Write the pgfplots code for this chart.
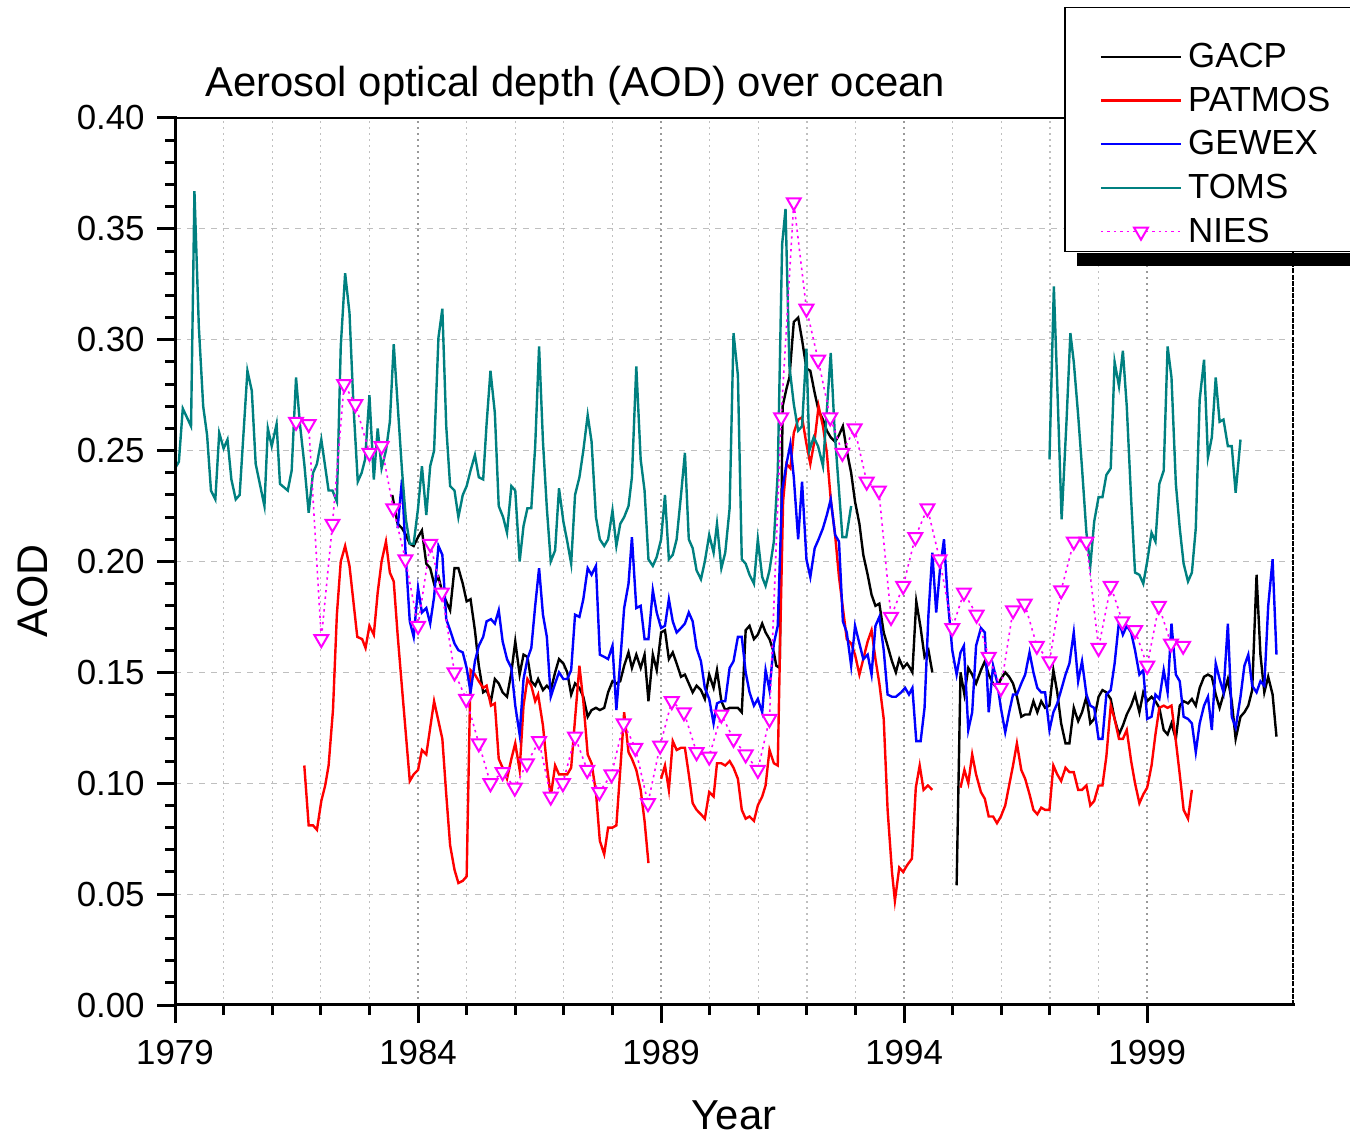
\documentclass[border=0pt]{standalone}
\usepackage{fontspec}
\setmainfont{Liberation Sans}
\usepackage{pgfplots}
\pgfplotsset{compat=1.18}
\definecolor{toms}{RGB}{0,128,128}
\definecolor{nies}{RGB}{255,0,255}
\begin{document}
\begin{tikzpicture}
\path[use as bounding box] (0,0) rectangle (675bp,568.5bp);
\begin{axis}[
  name=ax,
  at={(87.5bp,66bp)}, anchor=south west,
  scale only axis, width=559bp, height=443.5bp,
  xmin=1979, xmax=2002, ymin=0, ymax=0.4,
  clip=false,
  xtick={1979,1984,1989,1994,1999},
  xticklabels={1979,1984,1989,1994,1999},
  minor x tick num=4,
  ytick={0,0.05,0.1,0.15,0.2,0.25,0.3,0.35,0.4},
  yticklabels={0.00,0.05,0.10,0.15,0.20,0.25,0.30,0.35,0.40},
  minor y tick num=4,
  tick pos=left,
  tick align=outside,
  major tick length=9bp, minor tick length=5bp,
  tick style={black, line width=1.5bp},
  axis line style={draw=none},
  xmajorgrids, xminorgrids, ymajorgrids,
  major x grid style={gray!80, line width=0.8bp, dash pattern=on 1bp off 2bp},
  minor x grid style={gray!50, line width=0.6bp, dash pattern=on 1bp off 2bp},
  major y grid style={gray!50, line width=0.6bp, dash pattern=on 3bp off 3bp},
  tick label style={font=\fontsize{17.5}{21}\selectfont, inner sep=0pt},
  xticklabel shift=8.5bp,
  yticklabel shift=6bp,
  title={Aerosol optical depth (AOD) over ocean},
  title style={at={(axis description cs:0.0268,1.0237)}, anchor=base west, yshift=-6pt, inner sep=0pt, font=\fontsize{21}{25}\selectfont},
  xlabel={Year},
  xlabel style={at={(axis description cs:0.5,-0.1398)}, anchor=base, inner sep=0pt, font=\fontsize{21}{25}\selectfont},
  ylabel={AOD},
  ylabel style={at={(axis description cs:-0.1136,0.4667)}, anchor=base, inner sep=0pt, font=\fontsize{21.5}{26}\selectfont},
  unbounded coords=jump,
  legend style={name=leg, at={(axis description cs:0.7952,1.1252)}, anchor=north west,
    draw=black, line width=0.75bp, fill=white,
    font=\fontsize{17.5}{21}\selectfont,
    inner xsep=17.5bp, inner ysep=3bp,
    row sep=8.2bp, column sep=3bp,
    nodes={inner sep=0pt}},
  legend cell align=left,
  legend image code/.code={\draw[mark repeat=2,mark phase=2,#1] plot coordinates {(0bp,0bp) (20bp,0bp) (40bp,0bp)};},
]
\addlegendimage{empty legend}
\addlegendentry[text height=5bp]{}
\draw[line width=0.6bp] (rel axis cs:0,1) -- (rel axis cs:1,1);
\draw[line width=0.6bp, dash pattern=on 2.5bp off 0.6bp] (rel axis cs:1,0) -- (rel axis cs:1,1);
% GACP
\addplot[black, line width=1.2bp] coordinates {
(1983.47,0.230)(1983.58,0.217)(1983.67,0.215)(1983.75,0.212)(1983.83,0.208)(1983.91,0.207)
(1984.00,0.211)(1984.08,0.214)(1984.17,0.199)(1984.25,0.197)(1984.33,0.190)(1984.42,0.193)(1984.50,0.186)(1984.58,0.182)(1984.66,0.178)(1984.75,0.197)(1984.83,0.197)(1984.92,0.190)
(1985.00,0.182)(1985.08,0.183)(1985.17,0.169)(1985.25,0.153)(1985.34,0.141)(1985.41,0.142)(1985.50,0.137)(1985.58,0.147)(1985.66,0.145)(1985.74,0.141)(1985.83,0.139)(1985.92,0.150)
(1986.00,0.164)(1986.09,0.149)(1986.17,0.158)(1986.25,0.157)(1986.33,0.146)(1986.41,0.144)(1986.47,0.147)(1986.57,0.142)(1986.65,0.144)(1986.73,0.142)(1986.82,0.150)(1986.90,0.156)(1986.99,0.154)
(1987.07,0.150)(1987.15,0.140)(1987.23,0.145)(1987.32,0.143)(1987.40,0.139)(1987.49,0.130)(1987.57,0.133)(1987.66,0.134)(1987.74,0.133)(1987.83,0.134)(1987.91,0.141)
(1988.00,0.146)(1988.08,0.145)(1988.16,0.146)(1988.24,0.153)(1988.33,0.159)(1988.40,0.152)(1988.49,0.158)(1988.58,0.152)(1988.66,0.158)(1988.74,0.137)(1988.83,0.158)(1988.91,0.151)
(1989.00,0.168)(1989.08,0.169)(1989.16,0.156)(1989.24,0.159)(1989.32,0.154)(1989.41,0.148)(1989.49,0.149)(1989.57,0.145)(1989.65,0.141)(1989.73,0.144)(1989.82,0.142)(1989.90,0.138)(1989.99,0.149)
(1990.08,0.143)(1990.15,0.151)(1990.24,0.137)(1990.32,0.133)(1990.41,0.134)(1990.49,0.134)(1990.58,0.134)(1990.66,0.132)(1990.74,0.169)(1990.82,0.171)(1990.91,0.165)(1990.99,0.167)
(1991.08,0.172)(1991.15,0.168)(1991.23,0.165)(1991.32,0.159)(1991.37,0.153)(1991.44,0.152)(1991.50,0.270)(1991.58,0.278)(1991.64,0.283)(1991.73,0.308)(1991.82,0.310)(1991.90,0.300)(1991.99,0.287)
(1992.07,0.286)(1992.16,0.276)(1992.24,0.268)(1992.33,0.264)(1992.41,0.259)(1992.49,0.256)(1992.58,0.254)(1992.66,0.257)(1992.74,0.261)(1992.82,0.250)(1992.91,0.240)(1992.99,0.227)
(1993.08,0.217)(1993.16,0.203)(1993.25,0.194)(1993.33,0.185)(1993.41,0.180)(1993.49,0.181)(1993.58,0.168)(1993.66,0.162)(1993.75,0.155)(1993.83,0.150)(1993.90,0.156)(1993.98,0.152)
(1994.06,0.154)(1994.12,0.152)(1994.17,0.150)(1994.25,0.182)(1994.34,0.170)(1994.42,0.157)(1994.50,0.160)(1994.58,0.150)
(1994.80,nan)
(1995.08,0.054)(1995.16,0.150)(1995.24,0.140)(1995.32,0.152)(1995.40,0.149)(1995.48,0.145)(1995.58,0.151)(1995.66,0.155)(1995.74,0.149)(1995.83,0.145)(1995.91,0.143)(1995.99,0.147)
(1996.08,0.150)(1996.16,0.148)(1996.24,0.145)(1996.32,0.139)(1996.41,0.130)(1996.49,0.131)(1996.58,0.131)(1996.66,0.137)(1996.74,0.132)(1996.82,0.137)(1996.90,0.134)(1996.99,0.135)
(1997.07,0.151)(1997.15,0.141)(1997.23,0.127)(1997.32,0.118)(1997.40,0.118)(1997.49,0.134)(1997.58,0.128)(1997.66,0.132)(1997.75,0.139)(1997.83,0.127)(1997.91,0.129)
(1998.00,0.139)(1998.08,0.142)(1998.16,0.141)(1998.25,0.138)(1998.33,0.129)(1998.42,0.122)(1998.50,0.126)(1998.58,0.131)(1998.67,0.135)(1998.75,0.140)(1998.84,0.132)(1998.92,0.141)
(1999.00,0.137)(1999.09,0.139)(1999.17,0.137)(1999.25,0.134)(1999.34,0.124)(1999.42,0.122)(1999.50,0.127)(1999.59,0.120)(1999.67,0.135)(1999.75,0.137)(1999.84,0.136)(1999.92,0.138)
(2000.00,0.135)(2000.08,0.143)(2000.17,0.148)(2000.25,0.149)(2000.33,0.148)(2000.41,0.140)(2000.49,0.134)(2000.57,0.140)(2000.66,0.147)(2000.74,0.137)(2000.82,0.120)(2000.92,0.130)
(2001.00,0.132)(2001.08,0.135)(2001.16,0.142)(2001.25,0.194)(2001.33,0.158)(2001.41,0.141)(2001.49,0.148)(2001.58,0.140)(2001.66,0.121)
};
\addlegendentry{GACP}
% PATMOS
\addplot[red, line width=1.2bp] coordinates {
(1981.66,0.108)(1981.75,0.081)(1981.84,0.081)(1981.92,0.079)(1982.01,0.092)(1982.09,0.099)(1982.16,0.108)(1982.25,0.133)(1982.33,0.176)(1982.41,0.200)(1982.50,0.207)(1982.59,0.198)(1982.67,0.182)(1982.75,0.166)(1982.85,0.165)(1982.92,0.161)
(1983.00,0.171)(1983.09,0.167)(1983.17,0.186)(1983.25,0.200)(1983.34,0.209)(1983.42,0.195)(1983.50,0.191)(1983.58,0.167)(1983.67,0.143)(1983.75,0.122)(1983.83,0.101)(1983.91,0.104)
(1984.00,0.106)(1984.08,0.115)(1984.17,0.113)(1984.25,0.125)(1984.33,0.137)(1984.42,0.128)(1984.50,0.120)(1984.58,0.095)(1984.66,0.072)(1984.75,0.061)(1984.83,0.055)(1984.92,0.056)
(1985.00,0.058)(1985.08,0.151)(1985.17,0.149)(1985.25,0.146)(1985.34,0.143)(1985.41,0.144)(1985.50,0.135)(1985.58,0.136)(1985.66,0.111)(1985.74,0.107)(1985.83,0.102)(1985.92,0.111)
(1986.00,0.118)(1986.09,0.106)(1986.17,0.135)(1986.25,0.147)(1986.33,0.144)(1986.41,0.137)(1986.47,0.140)(1986.57,0.126)(1986.65,0.108)(1986.73,0.094)(1986.82,0.108)(1986.90,0.104)(1986.99,0.104)
(1987.07,0.104)(1987.15,0.107)(1987.23,0.129)(1987.32,0.153)(1987.40,0.137)(1987.49,0.113)(1987.57,0.109)(1987.66,0.096)(1987.74,0.074)(1987.83,0.068)(1987.91,0.080)
(1988.00,0.080)(1988.08,0.081)(1988.16,0.106)(1988.24,0.132)(1988.33,0.114)(1988.40,0.111)(1988.49,0.106)(1988.58,0.097)(1988.66,0.083)(1988.74,0.064)
(1988.85,nan)
(1989.00,0.102)(1989.08,0.108)(1989.16,0.097)(1989.24,0.119)(1989.32,0.115)(1989.41,0.116)(1989.49,0.116)(1989.57,0.104)(1989.65,0.091)(1989.73,0.088)(1989.82,0.086)(1989.90,0.084)(1989.99,0.096)
(1990.08,0.094)(1990.15,0.109)(1990.24,0.109)(1990.32,0.108)(1990.41,0.110)(1990.49,0.107)(1990.58,0.102)(1990.66,0.088)(1990.74,0.084)(1990.82,0.085)(1990.91,0.083)(1990.99,0.090)
(1991.08,0.094)(1991.15,0.099)(1991.23,0.115)(1991.32,0.109)(1991.40,0.108)(1991.45,0.165)(1991.51,0.227)(1991.58,0.244)(1991.66,0.242)(1991.73,0.258)(1991.82,0.264)(1991.90,0.265)(1991.99,0.253)
(1992.07,0.244)(1992.16,0.255)(1992.24,0.270)(1992.33,0.261)(1992.41,0.249)(1992.49,0.228)(1992.58,0.212)(1992.66,0.193)(1992.74,0.179)(1992.82,0.165)(1992.91,0.163)(1992.99,0.158)
(1993.08,0.149)(1993.16,0.156)(1993.25,0.164)(1993.33,0.169)(1993.41,0.156)(1993.49,0.145)(1993.58,0.129)(1993.66,0.088)(1993.75,0.060)(1993.81,0.047)(1993.90,0.062)(1993.98,0.060)
(1994.06,0.063)(1994.16,0.066)(1994.24,0.098)(1994.32,0.108)(1994.40,0.097)(1994.49,0.099)(1994.58,0.097)
(1994.85,nan)
(1995.16,0.098)(1995.24,0.106)(1995.32,0.100)(1995.40,0.113)(1995.48,0.104)(1995.58,0.096)(1995.66,0.093)(1995.74,0.085)(1995.83,0.085)(1995.91,0.082)(1995.99,0.085)
(1996.08,0.090)(1996.16,0.099)(1996.24,0.108)(1996.32,0.118)(1996.41,0.106)(1996.49,0.102)(1996.58,0.095)(1996.66,0.088)(1996.74,0.086)(1996.82,0.089)(1996.90,0.088)(1996.99,0.088)
(1997.07,0.108)(1997.15,0.104)(1997.23,0.101)(1997.32,0.107)(1997.40,0.105)(1997.49,0.105)(1997.58,0.097)(1997.66,0.097)(1997.75,0.099)(1997.83,0.090)(1997.91,0.092)
(1998.00,0.099)(1998.08,0.099)(1998.16,0.112)(1998.25,0.135)(1998.33,0.129)(1998.42,0.120)(1998.50,0.120)(1998.58,0.124)(1998.67,0.110)(1998.75,0.100)(1998.84,0.091)(1998.92,0.095)
(1999.00,0.098)(1999.09,0.108)(1999.17,0.122)(1999.25,0.134)(1999.34,0.135)(1999.42,0.134)(1999.50,0.135)(1999.59,0.119)(1999.67,0.104)(1999.75,0.088)(1999.84,0.084)(1999.92,0.097)
};
\addlegendentry{PATMOS}
% GEWEX
\addplot[blue, line width=1.2bp] coordinates {
(1983.58,0.215)(1983.67,0.237)(1983.75,0.201)(1983.83,0.173)(1983.91,0.166)
(1984.00,0.188)(1984.08,0.177)(1984.17,0.179)(1984.25,0.172)(1984.33,0.184)(1984.42,0.207)(1984.50,0.203)(1984.58,0.174)(1984.66,0.169)(1984.75,0.163)(1984.83,0.160)(1984.92,0.159)
(1985.00,0.152)(1985.08,0.141)(1985.17,0.155)(1985.25,0.162)(1985.34,0.166)(1985.41,0.173)(1985.50,0.174)(1985.58,0.172)(1985.66,0.178)(1985.74,0.164)(1985.83,0.156)(1985.92,0.152)
(1986.00,0.135)(1986.09,0.122)(1986.17,0.147)(1986.25,0.156)(1986.33,0.161)(1986.41,0.180)(1986.49,0.197)(1986.57,0.176)(1986.65,0.166)(1986.73,0.139)(1986.82,0.145)(1986.90,0.150)(1986.99,0.147)
(1987.07,0.147)(1987.15,0.151)(1987.23,0.176)(1987.32,0.175)(1987.40,0.183)(1987.49,0.197)(1987.57,0.194)(1987.66,0.198)(1987.74,0.158)(1987.83,0.157)(1987.91,0.156)
(1988.00,0.162)(1988.08,0.133)(1988.16,0.155)(1988.24,0.179)(1988.33,0.190)(1988.40,0.211)(1988.49,0.179)(1988.58,0.180)(1988.66,0.165)(1988.74,0.165)(1988.83,0.187)(1988.91,0.177)
(1989.00,0.170)(1989.08,0.171)(1989.16,0.183)(1989.24,0.173)(1989.32,0.168)(1989.41,0.170)(1989.49,0.172)(1989.57,0.177)(1989.65,0.173)(1989.73,0.161)(1989.82,0.155)(1989.90,0.143)(1989.99,0.138)
(1990.08,0.127)(1990.15,0.136)(1990.24,0.137)(1990.32,0.137)(1990.41,0.152)(1990.49,0.155)(1990.58,0.166)(1990.66,0.166)(1990.74,0.150)(1990.82,0.141)(1990.91,0.135)(1990.99,0.138)
(1991.08,0.132)(1991.15,0.151)(1991.23,0.142)(1991.32,0.163)(1991.40,0.171)(1991.49,0.232)(1991.58,0.244)(1991.66,0.253)(1991.73,0.238)(1991.82,0.210)(1991.90,0.236)(1991.99,0.201)
(1992.07,0.193)(1992.16,0.206)(1992.24,0.210)(1992.33,0.215)(1992.41,0.221)(1992.49,0.228)(1992.58,0.212)(1992.66,0.209)(1992.74,0.173)(1992.82,0.168)(1992.91,0.153)(1992.99,0.171)
(1993.08,0.163)(1993.16,0.156)(1993.25,0.158)(1993.33,0.149)(1993.41,0.171)(1993.49,0.175)(1993.58,0.160)(1993.66,0.140)(1993.75,0.139)(1993.83,0.139)(1993.94,0.141)
(1994.02,0.143)(1994.10,0.140)(1994.17,0.143)(1994.25,0.119)(1994.34,0.119)(1994.42,0.134)(1994.50,0.176)(1994.58,0.204)(1994.66,0.177)(1994.74,0.197)(1994.82,0.210)(1994.90,0.182)(1994.99,0.160)
(1995.08,0.149)(1995.16,0.159)(1995.23,0.162)(1995.32,0.124)(1995.40,0.132)(1995.48,0.162)(1995.58,0.170)(1995.66,0.168)(1995.74,0.132)(1995.83,0.153)(1995.91,0.146)(1995.99,0.134)
(1996.08,0.123)(1996.16,0.132)(1996.24,0.140)(1996.32,0.140)(1996.41,0.145)(1996.49,0.149)(1996.58,0.159)(1996.66,0.150)(1996.74,0.143)(1996.82,0.141)(1996.90,0.141)(1996.99,0.124)
(1997.07,0.132)(1997.15,0.136)(1997.23,0.142)(1997.32,0.149)(1997.40,0.154)(1997.49,0.168)(1997.58,0.146)(1997.66,0.155)(1997.75,0.140)(1997.83,0.135)(1997.91,0.134)
(1998.00,0.120)(1998.08,0.120)(1998.16,0.140)(1998.25,0.142)(1998.33,0.154)(1998.42,0.173)(1998.50,0.167)(1998.58,0.171)(1998.67,0.168)(1998.75,0.160)(1998.84,0.149)(1998.92,0.151)
(1999.00,0.129)(1999.09,0.130)(1999.17,0.140)(1999.25,0.138)(1999.34,0.151)(1999.42,0.141)(1999.50,0.172)(1999.59,0.149)(1999.67,0.146)(1999.75,0.130)(1999.84,0.129)(1999.92,0.127)
(2000.00,0.114)(2000.08,0.127)(2000.17,0.135)(2000.25,0.139)(2000.33,0.124)(2000.41,0.154)(2000.49,0.147)(2000.57,0.141)(2000.66,0.172)(2000.74,0.130)(2000.82,0.125)(2000.92,0.139)
(2001.00,0.153)(2001.08,0.158)(2001.16,0.144)(2001.25,0.141)(2001.33,0.146)(2001.41,0.144)(2001.49,0.180)(2001.58,0.201)(2001.66,0.158)
};
\addlegendentry{GEWEX}
% TOMS
\addplot[toms, line width=1.2bp] coordinates {
(1979.00,0.242)(1979.08,0.245)(1979.16,0.269)(1979.33,0.261)(1979.40,0.367)(1979.49,0.306)(1979.58,0.270)(1979.66,0.257)(1979.74,0.232)(1979.83,0.228)(1979.91,0.258)
(1980.00,0.251)(1980.08,0.255)(1980.16,0.237)(1980.25,0.228)(1980.33,0.230)(1980.49,0.286)(1980.58,0.277)(1980.66,0.244)(1980.84,0.225)(1980.91,0.260)(1980.99,0.252)
(1981.09,0.262)(1981.16,0.235)(1981.32,0.232)(1981.40,0.241)(1981.49,0.283)(1981.57,0.262)(1981.66,0.244)(1981.75,0.222)(1981.84,0.240)(1981.92,0.244)
(1982.01,0.255)(1982.16,0.232)(1982.24,0.232)(1982.33,0.227)(1982.41,0.297)(1982.50,0.330)(1982.59,0.312)(1982.67,0.271)(1982.76,0.236)(1982.84,0.240)(1982.91,0.246)
(1983.00,0.275)(1983.09,0.237)(1983.17,0.260)(1983.25,0.242)(1983.34,0.250)(1983.42,0.263)(1983.50,0.298)(1983.58,0.271)(1983.67,0.241)(1983.75,0.219)(1983.83,0.208)(1983.91,0.208)
(1984.00,0.224)(1984.08,0.243)(1984.17,0.221)(1984.25,0.243)(1984.33,0.250)(1984.42,0.301)(1984.50,0.314)(1984.58,0.261)(1984.66,0.234)(1984.75,0.232)(1984.83,0.220)(1984.92,0.230)
(1985.00,0.234)(1985.08,0.241)(1985.17,0.248)(1985.25,0.238)(1985.34,0.237)(1985.41,0.262)(1985.49,0.286)(1985.58,0.267)(1985.66,0.225)(1985.75,0.220)(1985.83,0.213)(1985.92,0.234)
(1986.00,0.232)(1986.09,0.200)(1986.17,0.216)(1986.25,0.224)(1986.33,0.224)(1986.41,0.252)(1986.49,0.297)(1986.57,0.254)(1986.65,0.224)(1986.73,0.200)(1986.82,0.205)(1986.90,0.233)(1986.99,0.218)
(1987.07,0.209)(1987.15,0.199)(1987.23,0.230)(1987.32,0.238)(1987.40,0.250)(1987.49,0.266)(1987.57,0.254)(1987.66,0.220)(1987.74,0.210)(1987.83,0.207)(1987.91,0.210)
(1988.00,0.223)(1988.08,0.207)(1988.16,0.217)(1988.24,0.220)(1988.33,0.225)(1988.40,0.238)(1988.49,0.288)(1988.58,0.246)(1988.66,0.232)(1988.74,0.201)(1988.83,0.198)(1988.91,0.202)
(1989.00,0.210)(1989.08,0.230)(1989.16,0.201)(1989.24,0.203)(1989.32,0.210)(1989.41,0.230)(1989.49,0.249)(1989.57,0.210)(1989.65,0.206)(1989.73,0.196)(1989.82,0.192)(1989.90,0.200)(1989.99,0.212)
(1990.08,0.204)(1990.15,0.217)(1990.24,0.197)(1990.32,0.204)(1990.41,0.224)(1990.49,0.303)(1990.58,0.284)(1990.66,0.201)(1990.74,0.199)(1990.82,0.194)(1990.91,0.190)(1990.99,0.210)
(1991.08,0.193)(1991.15,0.189)(1991.23,0.196)(1991.32,0.209)(1991.40,0.240)(1991.49,0.343)(1991.56,0.359)(1991.64,0.288)(1991.73,0.271)(1991.82,0.259)(1991.90,0.261)(1991.99,0.296)
(1992.05,0.250)(1992.14,0.256)(1992.23,0.252)(1992.33,0.243)(1992.40,0.265)(1992.49,0.294)(1992.57,0.259)(1992.66,0.232)(1992.73,0.211)(1992.81,0.211)(1992.91,0.225)
(1994.00,nan)
(1996.99,0.246)(1997.08,0.324)(1997.16,0.273)(1997.24,0.219)(1997.34,0.263)(1997.42,0.303)(1997.49,0.290)(1997.58,0.266)(1997.66,0.242)(1997.75,0.213)(1997.83,0.198)(1997.91,0.218)
(1998.00,0.229)(1998.08,0.229)(1998.16,0.239)(1998.25,0.242)(1998.33,0.290)(1998.42,0.279)(1998.50,0.295)(1998.58,0.270)(1998.67,0.228)(1998.75,0.195)(1998.84,0.194)(1998.92,0.190)
(1999.00,0.200)(1999.09,0.213)(1999.17,0.209)(1999.25,0.235)(1999.34,0.241)(1999.42,0.297)(1999.50,0.283)(1999.59,0.235)(1999.67,0.215)(1999.75,0.199)(1999.84,0.191)(1999.92,0.195)
(2000.00,0.215)(2000.08,0.273)(2000.17,0.291)(2000.25,0.247)(2000.33,0.256)(2000.41,0.283)(2000.49,0.263)(2000.57,0.264)(2000.66,0.252)(2000.74,0.252)(2000.82,0.231)(2000.92,0.255)
};
\addlegendentry{TOMS}
% NIES
\addplot[nies, line width=0.8bp, dash pattern=on 1.2bp off 2bp, mark=triangle*, mark size=4bp,
  mark options={solid, rotate=180, fill=white, draw=nies, line width=1bp}] coordinates {
(1981.49,0.263)(1981.75,0.262)(1982.01,0.165)(1982.24,0.217)(1982.48,0.280)(1982.71,0.271)
(1983.00,0.249)(1983.25,0.252)(1983.49,0.224)(1983.74,0.201)(1984.00,0.171)(1984.25,0.208)(1984.49,0.186)(1984.75,0.150)
(1984.99,0.138)(1985.25,0.118)(1985.49,0.100)(1985.74,0.105)(1985.99,0.098)(1986.24,0.109)(1986.49,0.119)(1986.73,0.094)
(1986.98,0.100)(1987.23,0.121)(1987.48,0.106)(1987.73,0.096)(1987.98,0.104)(1988.23,0.127)(1988.47,0.116)(1988.73,0.091)
(1988.98,0.117)(1989.22,0.137)(1989.47,0.132)(1989.73,0.114)(1989.99,0.112)(1990.24,0.131)(1990.49,0.120)(1990.74,0.113)
(1990.99,0.106)(1991.23,0.129)(1991.47,0.265)(1991.73,0.362)(1991.99,0.314)(1992.23,0.291)(1992.48,0.265)(1992.73,0.249)
(1992.98,0.260)(1993.23,0.236)(1993.48,0.232)(1993.73,0.175)(1993.98,0.189)(1994.23,0.211)(1994.48,0.224)(1994.73,0.201)
(1994.99,0.170)(1995.23,0.186)(1995.49,0.176)(1995.74,0.157)(1995.99,0.143)(1996.24,0.178)(1996.48,0.181)(1996.73,0.162)
(1996.99,0.155)(1997.23,0.187)(1997.49,0.209)(1997.75,0.209)(1998.00,0.161)(1998.25,0.189)(1998.49,0.173)(1998.75,0.169)
(1999.00,0.153)(1999.24,0.180)(1999.49,0.163)(1999.74,0.162)
};
\addlegendentry{NIES}
\end{axis}
\draw[line width=1.5bp, line cap=rect] (ax.north west) -- (ax.south west) -- (ax.south east);
\fill[black] ([xshift=6.5bp, yshift=-0.375bp]leg.south west) rectangle ([xshift=6.5bp, yshift=-7bp]leg.south east);
\end{tikzpicture}
\end{document}
